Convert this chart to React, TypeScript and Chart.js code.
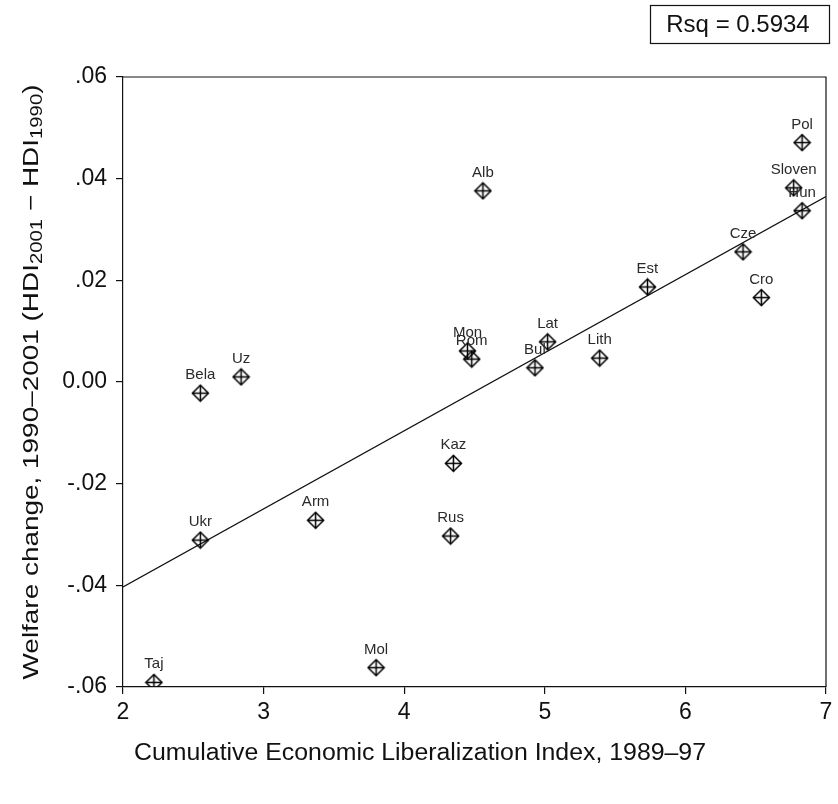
import React, { useEffect, useRef } from "react";
import { Chart, registerables } from "chart.js";

Chart.register(...registerables);

const countries = ["Taj", "Ukr", "Bela", "Uz", "Arm", "Mol", "Kaz", "Rus", "Mon", "Rom", "Alb", "Bul", "Lat", "Lith", "Est", "Cze", "Cro", "Sloven", "Pol", "Hun"];
const liberalization = [2.22, 2.55, 2.55, 2.84, 3.37, 3.8, 4.35, 4.33, 4.45, 4.48, 4.56, 4.93, 5.02, 5.39, 5.73, 6.41, 6.54, 6.77, 6.83, 6.83];
const welfareChange = [-0.0591, -0.0311, -0.0022, 0.001, -0.0272, -0.0562, -0.016, -0.0303, 0.0061, 0.0045, 0.0376, 0.0028, 0.0079, 0.0047, 0.0187, 0.0256, 0.0166, 0.0382, 0.0471, 0.0337];
const xTicks = [2, 3, 4, 5, 6, 7];
const yTicks = [-0.06, -0.04, -0.02, 0, 0.02, 0.04, 0.06];
const yTickLabels = ["-.06", "-.04", "-.02", "0.00", ".02", ".04", ".06"];
const rsqLabel = "Rsq = 0.5934";
const xTitle = "Cumulative Economic Liberalization Index, 1989–97";

const FONT = "'Liberation Sans', Arial, Helvetica, sans-serif";

function makeMarker(): HTMLCanvasElement {
  const c = document.createElement("canvas");
  c.width = 19;
  c.height = 19;
  const g = c.getContext("2d")!;
  g.strokeStyle = "#000";
  g.lineWidth = 1.5;
  const m = 9.5;
  const r = 8;
  g.beginPath();
  g.moveTo(m, m - r);
  g.lineTo(m + r, m);
  g.lineTo(m, m + r);
  g.lineTo(m - r, m);
  g.closePath();
  g.stroke();
  g.beginPath();
  g.moveTo(m, m - r);
  g.lineTo(m, m + r);
  g.moveTo(m - r, m);
  g.lineTo(m + r, m);
  g.stroke();
  return c;
}

function fitLine(xs: number[], ys: number[]) {
  const n = xs.length;
  const mx = xs.reduce((a, b) => a + b, 0) / n;
  const my = ys.reduce((a, b) => a + b, 0) / n;
  let sxy = 0;
  let sxx = 0;
  for (let i = 0; i < n; i++) {
    sxy += (xs[i] - mx) * (ys[i] - my);
    sxx += (xs[i] - mx) * (xs[i] - mx);
  }
  const b = sxy / sxx;
  return { a: my - b * mx, b };
}

const decorPlugin = {
  id: "decor",
  afterDatasetsDraw(chart: any) {
    const ctx = chart.ctx;
    const area = chart.chartArea;
    ctx.save();
    // frame top and right
    ctx.strokeStyle = "#111";
    ctx.lineWidth = 1.2;
    ctx.beginPath();
    ctx.moveTo(area.left, area.top);
    ctx.lineTo(area.right, area.top);
    ctx.lineTo(area.right, area.bottom);
    ctx.stroke();

    // point labels
    const meta = chart.getDatasetMeta(0);
    ctx.fillStyle = "#2a2a2a";
    ctx.font = `15px ${FONT}`;
    ctx.textAlign = "center";
    ctx.textBaseline = "alphabetic";
    meta.data.forEach((el: any, i: number) => {
      ctx.fillText(countries[i], el.x, el.y - 14);
    });

    // Rsq box
    ctx.fillStyle = "#111";
    ctx.strokeStyle = "#111";
    ctx.lineWidth = 1.2;
    ctx.strokeRect(650.5, 5.5, 179, 38);
    ctx.font = `24px ${FONT}`;
    ctx.textAlign = "center";
    ctx.textBaseline = "middle";
    ctx.fillText(rsqLabel, 738, 25);

    // x title, stretched to reference length
    ctx.save();
    ctx.font = `22px ${FONT}`;
    const xw = ctx.measureText(xTitle).width;
    ctx.translate(420, 754);
    ctx.scale(572 / xw, 1.05);
    ctx.textAlign = "center";
    ctx.textBaseline = "middle";
    ctx.fillText(xTitle, 0, 0);
    ctx.restore();

    // y title with subscripts
    const parts: [string, boolean][] = [
      ["Welfare change, 1990–2001 (HDI", false],
      ["2001", true],
      [" − HDI", false],
      ["1990", true],
      [")", false],
    ];
    const mainFont = `22px ${FONT}`;
    const subFont = `16px ${FONT}`;
    let total = 0;
    parts.forEach(([t, s]) => {
      ctx.font = s ? subFont : mainFont;
      total += ctx.measureText(t).width;
    });
    ctx.translate(32, 382);
    ctx.rotate(-Math.PI / 2);
    ctx.scale(595 / total, 1.0);
    ctx.textAlign = "left";
    ctx.textBaseline = "middle";
    let x = -total / 2;
    parts.forEach(([t, s]) => {
      ctx.font = s ? subFont : mainFont;
      ctx.fillText(t, x, s ? 6 : 0);
      x += ctx.measureText(t).width;
    });
    ctx.restore();
  },
};

export default function App() {
  const ref = useRef<HTMLCanvasElement | null>(null);

  useEffect(() => {
    if (!ref.current) return;
    const { a, b } = fitLine(liberalization, welfareChange);
    const points = liberalization.map((x, i) => ({ x, y: welfareChange[i] }));
    const fit = [
      { x: xTicks[0], y: a + b * xTicks[0] },
      { x: xTicks[xTicks.length - 1], y: a + b * xTicks[xTicks.length - 1] },
    ];
    const marker = makeMarker();
    const chart = new Chart(ref.current, {
      type: "scatter",
      data: {
        datasets: [
          {
            type: "scatter",
            data: points,
            pointStyle: marker as any,
            pointRadius: 9,
            pointHoverRadius: 9,
          },
          {
            type: "line",
            data: fit,
            borderColor: "#111",
            borderWidth: 1.3,
            pointRadius: 0,
            fill: false,
          } as any,
        ],
      },
      options: {
        responsive: false,
        animation: false,
        events: [],
        layout: { padding: { left: 0, top: 77, right: 12, bottom: 0 } },
        plugins: {
          legend: { display: false },
          tooltip: { enabled: false },
          title: { display: false },
        },
        scales: {
          x: {
            type: "linear",
            min: 2,
            max: 7,
            afterBuildTicks: (s: any) => {
              s.ticks = xTicks.map((v) => ({ value: v }));
            },
            afterFit: (s: any) => {
              s.height = 117;
            },
            grid: { display: true, drawOnChartArea: false, drawTicks: true, tickLength: 7, color: "#111", lineWidth: 1.2 },
            border: { display: true, color: "#111", width: 1.2 },
            ticks: {
              color: "#111",
              font: { family: FONT, size: 23 },
              padding: 5,
              maxRotation: 0,
              callback: (v: any) => String(v),
            },
          },
          y: {
            type: "linear",
            min: -0.06,
            max: 0.06,
            afterBuildTicks: (s: any) => {
              s.ticks = yTicks.map((v) => ({ value: v }));
            },
            afterFit: (s: any) => {
              s.width = 123;
            },
            grid: { display: true, drawOnChartArea: false, drawTicks: true, tickLength: 7, color: "#111", lineWidth: 1.2 },
            border: { display: true, color: "#111", width: 1.2 },
            ticks: {
              color: "#111",
              font: { family: FONT, size: 23 },
              padding: 9,
              callback: (v: any) => {
                let best = 0;
                yTicks.forEach((t, i) => {
                  if (Math.abs(t - v) < Math.abs(yTicks[best] - v)) best = i;
                });
                return yTickLabels[best];
              },
            },
          },
        },
      },
      plugins: [decorPlugin],
    });
    return () => chart.destroy();
  }, []);

  return (
    <div style={{ position: "absolute", left: 0, top: 0, width: 838, height: 804, background: "#fff" }}>
      <canvas ref={ref} width={838} height={804} style={{ display: "block" }} />
    </div>
  );
}
